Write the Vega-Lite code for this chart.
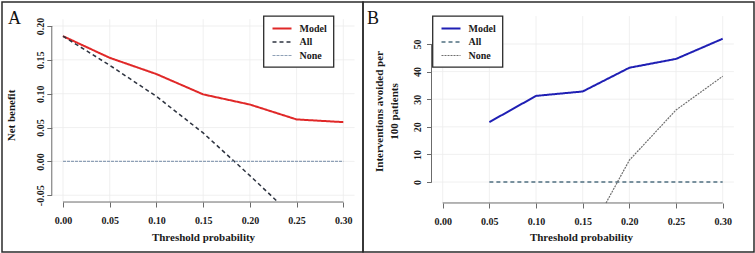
{
  "$schema": "https://vega.github.io/schema/vega-lite/v6.json",
  "padding": {"left": 1, "top": 1, "right": 1, "bottom": 1},
  "spacing": 0,
  "bounds": "flush",
  "background": "white",
  "datasets": {
    "netBenefit": [
      {"p": 0.00, "value": 0.185, "curve": "Model"},
      {"p": 0.05, "value": 0.153, "curve": "Model"},
      {"p": 0.10, "value": 0.129, "curve": "Model"},
      {"p": 0.15, "value": 0.099, "curve": "Model"},
      {"p": 0.20, "value": 0.084, "curve": "Model"},
      {"p": 0.25, "value": 0.062, "curve": "Model"},
      {"p": 0.30, "value": 0.058, "curve": "Model"},
      {"p": 0.00, "value": 0.185, "curve": "All"},
      {"p": 0.05, "value": 0.142, "curve": "All"},
      {"p": 0.10, "value": 0.096, "curve": "All"},
      {"p": 0.15, "value": 0.042, "curve": "All"},
      {"p": 0.20, "value": -0.021, "curve": "All"},
      {"p": 0.23, "value": -0.060, "curve": "All"},
      {"p": 0.00, "value": 0, "curve": "None"},
      {"p": 0.05, "value": 0, "curve": "None"},
      {"p": 0.10, "value": 0, "curve": "None"},
      {"p": 0.15, "value": 0, "curve": "None"},
      {"p": 0.20, "value": 0, "curve": "None"},
      {"p": 0.25, "value": 0, "curve": "None"},
      {"p": 0.30, "value": 0, "curve": "None"}
    ],
    "avoided": [
      {"p": 0.05, "value": 21.7, "curve": "Model"},
      {"p": 0.10, "value": 31.2, "curve": "Model"},
      {"p": 0.15, "value": 32.8, "curve": "Model"},
      {"p": 0.20, "value": 41.4, "curve": "Model"},
      {"p": 0.25, "value": 44.6, "curve": "Model"},
      {"p": 0.30, "value": 51.9, "curve": "Model"},
      {"p": 0.05, "value": 0, "curve": "All"},
      {"p": 0.10, "value": 0, "curve": "All"},
      {"p": 0.15, "value": 0, "curve": "All"},
      {"p": 0.20, "value": 0, "curve": "All"},
      {"p": 0.25, "value": 0, "curve": "All"},
      {"p": 0.30, "value": 0, "curve": "All"},
      {"p": 0.175, "value": -7.6, "curve": "None"},
      {"p": 0.20, "value": 7.9, "curve": "None"},
      {"p": 0.25, "value": 26.1, "curve": "None"},
      {"p": 0.30, "value": 38.3, "curve": "None"}
    ],
    "xTicks": [{"t": 0}, {"t": 0.05}, {"t": 0.1}, {"t": 0.15}, {"t": 0.2}, {"t": 0.25}, {"t": 0.3}],
    "yTicksA": [{"t": -0.05}, {"t": 0}, {"t": 0.05}, {"t": 0.1}, {"t": 0.15}, {"t": 0.2}],
    "yTicksB": [{"t": 0}, {"t": 10}, {"t": 20}, {"t": 30}, {"t": 40}, {"t": 50}],
    "panelA": [{"label": "A"}],
    "panelB": [{"label": "B"}]
  },
  "hconcat": [
    {
      "width": 361,
      "height": 250,
      "layer": [
        {
          "data": {"name": "xTicks"},
          "mark": {"type": "rule", "color": "#ececec", "strokeWidth": 0.8},
          "encoding": {
            "x": {"field": "t", "type": "quantitative", "scale": {"domain": [-0.06528, 0.32106], "nice": false, "zero": false}},
            "y": {"datum": -0.06, "type": "quantitative", "scale": {"domain": [-0.13383, 0.23545], "nice": false, "zero": false}},
            "y2": {"datum": 0.21}
          }
        },
        {
          "data": {"name": "yTicksA"},
          "mark": {"type": "rule", "color": "#ececec", "strokeWidth": 0.8},
          "encoding": {
            "y": {"field": "t", "type": "quantitative"},
            "x": {"datum": -0.012, "type": "quantitative"},
            "x2": {"datum": 0.312}
          }
        },
        {
          "data": {"name": "panelA"},
          "mark": {"type": "rule", "color": "#6b6b6b", "strokeWidth": 1},
          "encoding": {
            "x": {"datum": -0.012, "type": "quantitative"},
            "y": {"datum": -0.05, "type": "quantitative"},
            "y2": {"datum": 0.2}
          }
        },
        {
          "data": {"name": "panelA"},
          "mark": {"type": "rule", "color": "#6b6b6b", "strokeWidth": 1},
          "encoding": {
            "y": {"datum": -0.06, "type": "quantitative"},
            "x": {"datum": 0, "type": "quantitative"},
            "x2": {"datum": 0.3}
          }
        },
        {
          "data": {"name": "panelA"},
          "mark": {"type": "text", "align": "left", "baseline": "alphabetic", "font": "Liberation Serif", "fontSize": 18, "color": "#111111"},
          "encoding": {
            "text": {"field": "label"},
            "x": {"datum": -0.0589, "type": "quantitative"},
            "y": {"datum": 0.203, "type": "quantitative"}
          }
        },
        {
          "data": {"name": "netBenefit"},
          "mark": {"type": "line"},
          "encoding": {
            "x": {
              "field": "p", "type": "quantitative",
              "axis": {"values": [0, 0.05, 0.1, 0.15, 0.2, 0.25, 0.3], "format": ".2f", "offset": -50, "title": "Threshold probability", "titleX": 201, "titleY": 35}
            },
            "y": {
              "field": "value", "type": "quantitative",
              "axis": {"values": [-0.05, 0, 0.05, 0.1, 0.15, 0.2], "labelExpr": "replace(format(datum.value, '.2f'), '\u2212', '-')", "offset": -49.8, "title": "Net benefit", "titleX": -40.5, "titleY": 113}
            },
            "stroke": {
              "field": "curve", "type": "nominal",
              "scale": {"domain": ["Model", "All", "None"], "range": ["#e02828", "#2e3440", "#8ea0b6"]},
              "legend": {"title": null, "legendX": 261.5, "legendY": 14, "symbolType": "M-0.7,0H3.1", "labelExpr": "datum.label + '   '"}
            },
            "strokeDash": {
              "field": "curve", "type": "nominal",
              "scale": {"domain": ["Model", "All", "None"], "range": [[1, 0], [4, 3], [3, 1]]},
              "legend": {"title": null, "legendX": 261.5, "legendY": 14, "symbolType": "M-0.7,0H3.1", "labelExpr": "datum.label + '   '"}
            },
            "strokeWidth": {
              "field": "curve", "type": "nominal",
              "scale": {"domain": ["Model", "All", "None"], "range": [2, 1.1, 1.7]},
              "legend": {"title": null, "legendX": 261.5, "legendY": 14, "symbolType": "M-0.7,0H3.1", "labelExpr": "datum.label + '   '"}
            }
          }
        }
      ]
    },
    {
      "width": 391,
      "height": 250,
      "layer": [
        {
          "data": {"name": "xTicks"},
          "mark": {"type": "rule", "color": "#ececec", "strokeWidth": 0.8},
          "encoding": {
            "x": {"field": "t", "type": "quantitative", "scale": {"domain": [-0.0854, 0.33355], "nice": false, "zero": false}},
            "y": {"datum": -7.6, "type": "quantitative", "scale": {"domain": [-25.362, 65.217], "nice": false, "zero": false}},
            "y2": {"datum": 60.1}
          }
        },
        {
          "data": {"name": "yTicksB"},
          "mark": {"type": "rule", "color": "#ececec", "strokeWidth": 0.8},
          "encoding": {
            "y": {"field": "t", "type": "quantitative"},
            "x": {"datum": -0.012, "type": "quantitative"},
            "x2": {"datum": 0.312}
          }
        },
        {
          "data": {"name": "panelB"},
          "mark": {"type": "rule", "color": "#6b6b6b", "strokeWidth": 1},
          "encoding": {
            "x": {"datum": -0.012, "type": "quantitative"},
            "y": {"datum": 0, "type": "quantitative"},
            "y2": {"datum": 50}
          }
        },
        {
          "data": {"name": "panelB"},
          "mark": {"type": "rule", "color": "#6b6b6b", "strokeWidth": 1},
          "encoding": {
            "y": {"datum": -7.6, "type": "quantitative"},
            "x": {"datum": 0, "type": "quantitative"},
            "x2": {"datum": 0.3}
          }
        },
        {
          "data": {"name": "panelB"},
          "mark": {"type": "text", "align": "left", "baseline": "alphabetic", "font": "Liberation Serif", "fontSize": 18, "color": "#111111"},
          "encoding": {
            "text": {"field": "label"},
            "x": {"datum": -0.0811, "type": "quantitative"},
            "y": {"datum": 57.25, "type": "quantitative"}
          }
        },
        {
          "data": {"name": "avoided"},
          "mark": {"type": "line"},
          "encoding": {
            "x": {
              "field": "p", "type": "quantitative",
              "axis": {"values": [0, 0.05, 0.1, 0.15, 0.2, 0.25, 0.3], "format": ".2f", "offset": -49, "title": "Threshold probability", "titleX": 218, "titleY": 34}
            },
            "y": {
              "field": "value", "type": "quantitative",
              "axis": {"values": [0, 10, 20, 30, 40, 50], "format": "d", "offset": -68.5, "labelPadding": 4, "title": ["Interventions avoided per", "100 patients"], "titleX": -52, "titleY": 109, "titleLineHeight": 15}
            },
            "stroke": {
              "field": "curve", "type": "nominal",
              "scale": {"domain": ["Model", "All", "None"], "range": ["#1f1fb4", "#4f6f80", "#6e6e6e"]},
              "legend": {"title": null, "legendX": 69.5, "legendY": 14, "symbolType": "M-0.7,0H3.1", "labelExpr": "datum.label + '   '"}
            },
            "strokeDash": {
              "field": "curve", "type": "nominal",
              "scale": {"domain": ["Model", "All", "None"], "range": [[1, 0], [4, 3], [2, 1]]},
              "legend": {"title": null, "legendX": 69.5, "legendY": 14, "symbolType": "M-0.7,0H3.1", "labelExpr": "datum.label + '   '"}
            },
            "strokeWidth": {
              "field": "curve", "type": "nominal",
              "scale": {"domain": ["Model", "All", "None"], "range": [2, 1.2, 1.3]},
              "legend": {"title": null, "legendX": 69.5, "legendY": 14, "symbolType": "M-0.7,0H3.1", "labelExpr": "datum.label + '   '"}
            }
          }
        }
      ]
    }
  ],
  "resolve": {
    "scale": {"x": "independent", "y": "independent", "stroke": "independent", "strokeDash": "independent", "strokeWidth": "independent"},
    "legend": {"stroke": "independent", "strokeDash": "independent", "strokeWidth": "independent"}
  },
  "config": {
    "font": "Liberation Serif",
    "view": {"stroke": "#2b2b2b", "strokeWidth": 1.5},
    "axis": {
      "domain": false, "grid": false, "ticks": true,
      "tickColor": "#6b6b6b", "tickSize": 5, "tickWidth": 1,
      "labelFont": "Liberation Serif", "labelFontWeight": "bold", "labelFontSize": 10, "labelColor": "#1a1a1a",
      "labelOverlap": false, "labelFlush": false, "labelBound": false,
      "titleFont": "Liberation Serif", "titleFontWeight": "bold", "titleFontSize": 11, "titleColor": "#1a1a1a"
    },
    "axisX": {"labelPadding": 8, "titleBaseline": "middle", "titleAlign": "center"},
    "axisY": {"labelAngle": 270, "labelAlign": "center", "labelBaseline": "bottom", "labelPadding": 1, "titleAngle": 270, "titleAlign": "center", "titleBaseline": "middle"},
    "legend": {
      "orient": "none",
      "labelFont": "Liberation Serif", "labelFontWeight": "bold", "labelFontSize": 10, "labelColor": "#1a1a1a",
      "symbolSize": 100,
      "strokeColor": "#2b2b2b", "fillColor": "white", "strokeWidth": 1.3,
      "padding": 6.5, "rowPadding": 2.5, "labelOffset": 17.5
    }
  }
}
